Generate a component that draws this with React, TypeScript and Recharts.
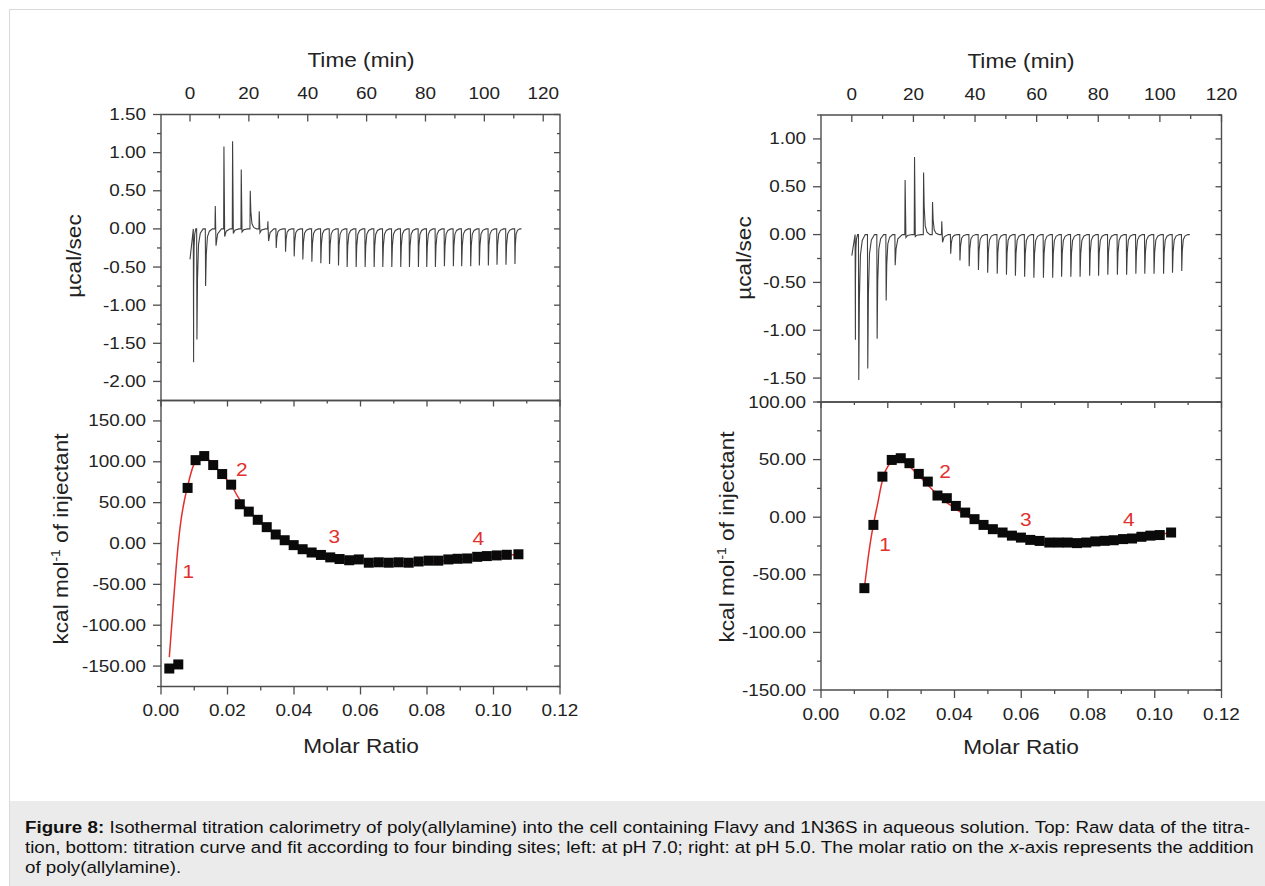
import React from 'react';
import { ComposedChart, Line, Scatter, XAxis, YAxis, ReferenceArea } from 'recharts';

// ---------------- data ----------------
// Raw thermograms (top): injection times (min), peak heights (µcal/sec), secondary dips
const leftInjTimes = [1.13, 2.26, 5.2, 8.49, 11.43, 14.37, 17.31, 20.37, 23.42, 26.36, 29.19, 32.36, 35.3, 38.24, 41.3, 44.35, 47.3, 50.35, 53.29, 56.35, 59.4, 62.46, 65.4, 68.46, 71.5, 74.45, 77.5, 80.33, 83.27, 86.33, 89.38, 92.2, 95.26, 98.2, 101.26, 104.2, 107.25, 110.3];
const leftInjPeaks = [-1.75, -1.45, -0.75, 0.3, 1.08, 1.15, 0.78, 0.5, 0.23, 0.1, -0.25, -0.3, -0.36, -0.4, -0.43, -0.45, -0.46, -0.48, -0.5, -0.5, -0.5, -0.5, -0.5, -0.5, -0.5, -0.5, -0.5, -0.5, -0.5, -0.49, -0.49, -0.49, -0.49, -0.48, -0.48, -0.47, -0.47, -0.46];
const leftInjDips = [0, 0, 0, -0.22, -0.1, -0.06, -0.04, 0, -0.05, -0.16, 0, 0, 0, 0, 0, 0, 0, 0, 0, 0, 0, 0, 0, 0, 0, 0, 0, 0, 0, 0, 0, 0, 0, 0, 0, 0, 0, 0];
const leftThermoStart = -0.4;
const leftThermoEnd = 112.6;

const rightInjTimes = [1.07, 2.16, 5.08, 8.12, 11.05, 13.98, 17.2, 20.26, 23.2, 26.1, 29.1, 32.0, 35.0, 38.0, 41.0, 44.0, 47.1, 50.1, 53.0, 56.0, 59.0, 62.1, 65.1, 68.0, 71.0, 74.0, 77.1, 80.0, 83.0, 86.1, 89.1, 92.1, 95.0, 98.0, 101.1, 104.0, 107.0];
const rightInjPeaks = [-1.1, -1.52, -1.4, -1.09, -0.69, -0.32, 0.57, 0.81, 0.65, 0.34, 0.14, -0.2, -0.27, -0.33, -0.37, -0.4, -0.41, -0.42, -0.43, -0.44, -0.45, -0.45, -0.45, -0.44, -0.44, -0.44, -0.43, -0.43, -0.42, -0.42, -0.42, -0.41, -0.41, -0.41, -0.41, -0.4, -0.38];
const rightInjDips = [0, 0, 0, 0, 0, -0.15, -0.03, -0.02, 0, 0, -0.08, 0, 0, 0, 0, 0, 0, 0, 0, 0, 0, 0, 0, 0, 0, 0, 0, 0, 0, 0, 0, 0, 0, 0, 0, 0, 0];
const rightThermoStart = -0.22;
const rightThermoEnd = 109.7;

// Integrated heats (bottom): molar ratio and kcal/mol of injectant
const leftMolar = [0.0025, 0.0052, 0.008, 0.0104, 0.013, 0.0157, 0.0184, 0.0211, 0.0237, 0.0264, 0.0291, 0.0318, 0.0345, 0.0372, 0.0399, 0.0426, 0.0453, 0.0481, 0.0509, 0.0537, 0.0566, 0.0595, 0.0625, 0.0655, 0.0685, 0.0715, 0.0745, 0.0775, 0.0805, 0.0834, 0.0864, 0.0892, 0.0921, 0.0951, 0.098, 0.101, 0.104, 0.1075];
const leftHeat = [-153, -148, 68, 102, 107, 96, 85, 72, 48, 39, 29, 20, 11, 4, -2, -7, -11, -14, -17, -19, -20.5, -19.5, -23.5, -23, -23.5, -23, -23.5, -22, -21, -21, -19.5, -18.7, -18.3, -16.3, -15.4, -14.6, -13.8, -13.2];
const leftFitX = [0.0025, 0.0035, 0.0045, 0.0052, 0.006, 0.007, 0.008, 0.009, 0.01, 0.011, 0.012, 0.013, 0.014, 0.0155, 0.017, 0.0185, 0.02, 0.0215, 0.023, 0.025, 0.0275, 0.03, 0.0325, 0.035, 0.0375, 0.04, 0.045, 0.05, 0.055, 0.06, 0.065, 0.07, 0.075, 0.08, 0.085, 0.09, 0.095, 0.1, 0.105, 0.108];
const leftFitY = [-139, -85, -32, 0, 28, 52, 70, 86, 98, 104, 106.5, 106.5, 104, 98, 91, 84, 77, 69, 58, 46, 35, 26, 18, 10.5, 4, -1.5, -9, -15, -19, -21.5, -22.8, -23.2, -23, -22.3, -21.2, -19.8, -18, -16, -14.2, -13];

const rightMolar = [0.013, 0.0157, 0.0184, 0.0212, 0.0239, 0.0265, 0.0293, 0.032, 0.0349, 0.0377, 0.0404, 0.0432, 0.046, 0.0487, 0.0515, 0.0544, 0.0572, 0.0599, 0.0627, 0.0655, 0.0684, 0.0712, 0.0739, 0.0767, 0.0795, 0.0822, 0.085, 0.0877, 0.0905, 0.0932, 0.096, 0.0987, 0.1015, 0.1049];
const rightHeat = [-61.6, -6.7, 35.2, 49.7, 51.2, 46.9, 37.6, 30.9, 18.8, 16.5, 9.8, 4.0, -1.7, -6.7, -10.4, -13.3, -16.0, -17.7, -19.7, -20.6, -22.0, -22.0, -22.0, -22.5, -22.0, -21.0, -20.5, -20.0, -19.0, -18.5, -17.0, -16.0, -15.5, -13.3];
const rightFitX = [0.013, 0.014, 0.015, 0.016, 0.017, 0.018, 0.019, 0.02, 0.021, 0.022, 0.023, 0.024, 0.025, 0.0265, 0.028, 0.03, 0.032, 0.034, 0.036, 0.038, 0.04, 0.042, 0.044, 0.046, 0.048, 0.05, 0.053, 0.056, 0.059, 0.062, 0.065, 0.068, 0.071, 0.074, 0.077, 0.08, 0.083, 0.086, 0.089, 0.092, 0.095, 0.098, 0.101, 0.105];
const rightFitY = [-61, -38, -18, -2, 12, 27, 38, 44, 47.5, 49, 49.5, 49, 47.5, 44, 40, 34, 28, 22, 16.5, 12, 8, 4, 0.5, -3, -6, -9, -12.5, -15.5, -17.8, -19.5, -21, -22, -22.6, -23, -23, -22.6, -22, -21, -20, -18.8, -17.5, -16.2, -15, -13.5];

// Red site annotations (data coordinates)
const leftSiteLabels = ['1', '2', '3', '4'];
const leftSiteX = [0.0082, 0.0243, 0.0521, 0.0954];
const leftSiteY = [-34, 90, 8, 6];
const rightSiteLabels = ['1', '2', '3', '4'];
const rightSiteX = [0.0192, 0.0372, 0.0614, 0.0922];
const rightSiteY = [-24, 39.6, -1.7, -1.7];

// Axis ticks
const timeTicks = [0, 10, 20, 30, 40, 50, 60, 70, 80, 90, 100, 110, 120];
const leftPowerTicks = [-2.25, -2, -1.75, -1.5, -1.25, -1, -0.75, -0.5, -0.25, 0, 0.25, 0.5, 0.75, 1, 1.25, 1.5];
const rightPowerTicks = [-1.75, -1.5, -1.25, -1, -0.75, -0.5, -0.25, 0, 0.25, 0.5, 0.75, 1, 1.25];
const leftHeatTicks = [-175, -150, -125, -100, -75, -50, -25, 0, 25, 50, 75, 100, 125, 150, 175];
const rightHeatTicks = [-150, -125, -100, -75, -50, -25, 0, 25, 50, 75, 100];
const molarTicks = [0, 0.01, 0.02, 0.03, 0.04, 0.05, 0.06, 0.07, 0.08, 0.09, 0.1, 0.11, 0.12];

// ---------------- layout / style ----------------
const PAGE_W = 1265;
const PAGE_H = 886;
const FONT = '"Liberation Sans", Arial, Helvetica, sans-serif';
const SX = 1.16;
const AXIS = '#4d4d4d';
const TEXT = '#222';
const RED = '#e2302e';

const LT = { left: 161, right: 560, top: 114.5, bottom: 400.5 };
const LB = { left: 161, right: 560, top: 400.5, bottom: 686.5 };
const RT = { left: 821, right: 1221.5, top: 115, bottom: 402 };
const RB = { left: 821, right: 1221.5, top: 402, bottom: 690 };

type Box = { left: number; right: number; top: number; bottom: number };

// axes get a 1px band (Recharts skips drawing axes of zero size)
const marginTop = (b: Box) => ({ left: b.left - 1, right: PAGE_W - b.right, top: b.top - 1, bottom: PAGE_H - b.bottom });
const marginBottom = (b: Box) => ({ left: b.left - 1, right: PAGE_W - b.right, top: b.top, bottom: PAGE_H - b.bottom - 1 });

// ---------------- builders ----------------
// each injection: sharp deflection to its peak and a quick return to the baseline
function buildThermo(times: number[], peaks: number[], dips: number[], start: number, end: number) {
  const pts: { x: number; y: number }[] = [{ x: 0, y: start }];
  for (let i = 0; i < times.length; i++) {
    const t = times[i];
    const gap = i < times.length - 1 ? times[i + 1] - t : end - t;
    const p = peaks[i];
    const d = dips[i];
    pts.push({ x: t, y: 0 });
    pts.push({ x: t + 0.1, y: p });
    if (d !== 0) {
      pts.push({ x: t + 0.12 * gap, y: d });
      pts.push({ x: t + 0.3 * gap, y: d * 0.3 });
    } else {
      pts.push({ x: t + 0.1 * gap, y: p * 0.45 });
      pts.push({ x: t + 0.22 * gap, y: p * 0.14 });
      pts.push({ x: t + 0.42 * gap, y: p * 0.04 });
    }
    pts.push({ x: t + 0.75 * gap, y: 0 });
  }
  pts.push({ x: end, y: 0 });
  return pts;
}

const zip = (xs: number[], ys: number[]) => xs.map((x, i) => ({ x, y: ys[i] }));

const leftThermo = buildThermo(leftInjTimes, leftInjPeaks, leftInjDips, leftThermoStart, leftThermoEnd);
const rightThermo = buildThermo(rightInjTimes, rightInjPeaks, rightInjDips, rightThermoStart, rightThermoEnd);
const leftPoints = zip(leftMolar, leftHeat);
const rightPoints = zip(rightMolar, rightHeat);
const leftFit = zip(leftFitX, leftFitY);
const rightFit = zip(rightFitX, rightFitY);
const leftSites = leftSiteLabels.map((t, i) => ({ x: leftSiteX[i], y: leftSiteY[i], t }));
const rightSites = rightSiteLabels.map((t, i) => ({ x: rightSiteX[i], y: rightSiteY[i], t }));

// ---------------- tick renderers ----------------
const isHalf = (v: number) => Math.abs(v * 2 - Math.round(v * 2)) < 1e-6;
const isFifty = (v: number) => Math.abs(v / 50 - Math.round(v / 50)) < 1e-6;
const isTwenty = (v: number) => Math.abs(v / 20 - Math.round(v / 20)) < 1e-6;
const isEvenHundredth = (v: number) => Math.round(v * 100) % 2 === 0;

const ScaledText = ({ x, y, anchor, size, fill, children }: any) => (
  <text
    transform={`translate(${x} ${y}) scale(${SX} 1)`}
    x={0}
    y={0}
    textAnchor={anchor}
    dominantBaseline="central"
    fontFamily={FONT}
    fontSize={size}
    fill={fill}
  >
    {children}
  </text>
);

const makeYTick = (box: Box, major: (v: number) => boolean) => (props: any) => {
  const { y, payload } = props;
  const v = Number(payload.value);
  const maj = major(v);
  const xl = box.left;
  const xr = box.right;
  return (
    <g>
      <line x1={xl - (maj ? 8 : 4)} x2={xl} y1={y} y2={y} stroke={AXIS} strokeWidth={1.3} />
      <line x1={xr - (maj ? 6 : 3)} x2={xr} y1={y} y2={y} stroke={AXIS} strokeWidth={1.3} />
      {maj ? (
        <ScaledText x={xl - 15} y={y} anchor="end" size={16.3} fill={TEXT}>
          {v.toFixed(2)}
        </ScaledText>
      ) : null}
    </g>
  );
};

const makeTopTick = (box: Box) => (props: any) => {
  const { x, payload } = props;
  const v = Number(payload.value);
  const maj = isTwenty(v);
  const y = box.top;
  return (
    <g>
      <line x1={x} x2={x} y1={y} y2={y + (maj ? 7 : 4)} stroke={AXIS} strokeWidth={1.3} />
      {maj ? (
        <ScaledText x={x} y={y - 21} anchor="middle" size={16.3} fill={TEXT}>
          {String(v)}
        </ScaledText>
      ) : null}
    </g>
  );
};

const makeBottomTick = (box: Box) => (props: any) => {
  const { x, payload } = props;
  const v = Number(payload.value);
  const maj = isEvenHundredth(v);
  const y = box.bottom;
  const yt = box.top;
  return (
    <g>
      <line x1={x} x2={x} y1={y} y2={y + (maj ? 8 : 4)} stroke={AXIS} strokeWidth={1.3} />
      <line x1={x} x2={x} y1={yt} y2={yt + (maj ? 6 : 3)} stroke={AXIS} strokeWidth={1.3} />
      {maj ? (
        <ScaledText x={x} y={y + 24} anchor="middle" size={16.3} fill={TEXT}>
          {v.toFixed(2)}
        </ScaledText>
      ) : null}
    </g>
  );
};

const squareShape = (props: any) => {
  const { cx, cy } = props;
  if (cx == null || cy == null) return <g />;
  return <rect x={cx - 5} y={cy - 5} width={10} height={10} fill="#0a0a0a" />;
};

const siteShape = (props: any) => {
  const { cx, cy, payload } = props;
  if (cx == null || cy == null) return <g />;
  return (
    <ScaledText x={cx} y={cy} anchor="middle" size={18} fill={RED}>
      {payload.t}
    </ScaledText>
  );
};

// ---------------- panels ----------------
function ThermoPanel({ box, xDomain, yDomain, yTicks, data }: any) {
  return (
    <div style={{ position: 'absolute', left: 0, top: 0 }}>
      <ComposedChart width={PAGE_W} height={PAGE_H} margin={marginTop(box)}>
        <XAxis
          xAxisId="t"
          type="number"
          dataKey="x"
          orientation="top"
          domain={xDomain}
          ticks={timeTicks}
          interval={0}
          height={1}
          tickSize={0}
          tickMargin={0}
          axisLine={false}
          tickLine={false}
          allowDataOverflow
          tick={makeTopTick(box)}
        />
        <YAxis
          yAxisId="p"
          type="number"
          dataKey="y"
          domain={yDomain}
          ticks={yTicks}
          interval={0}
          width={1}
          tickSize={0}
          tickMargin={0}
          axisLine={false}
          tickLine={false}
          allowDataOverflow
          tick={makeYTick(box, isHalf)}
        />
        <ReferenceArea
          xAxisId="t"
          yAxisId="p"
          x1={xDomain[0]}
          x2={xDomain[1]}
          y1={yDomain[0]}
          y2={yDomain[1]}
          fill="none"
          stroke={AXIS}
          strokeWidth={1.4}
          ifOverflow="visible"
        />
        <Line
          xAxisId="t"
          yAxisId="p"
          data={data}
          dataKey="y"
          type="linear"
          stroke="#404040"
          strokeWidth={1.1}
          dot={false}
          activeDot={false}
          isAnimationActive={false}
        />
      </ComposedChart>
    </div>
  );
}

function HeatPanel({ box, yDomain, yTicks, points, fit, sites }: any) {
  const xDomain = [0, 0.12];
  return (
    <div style={{ position: 'absolute', left: 0, top: 0 }}>
      <ComposedChart width={PAGE_W} height={PAGE_H} margin={marginBottom(box)}>
        <XAxis
          xAxisId="m"
          type="number"
          dataKey="x"
          orientation="bottom"
          domain={xDomain}
          ticks={molarTicks}
          interval={0}
          height={1}
          tickSize={0}
          tickMargin={0}
          axisLine={false}
          tickLine={false}
          allowDataOverflow
          tick={makeBottomTick(box)}
        />
        <YAxis
          yAxisId="h"
          type="number"
          dataKey="y"
          domain={yDomain}
          ticks={yTicks}
          interval={0}
          width={1}
          tickSize={0}
          tickMargin={0}
          axisLine={false}
          tickLine={false}
          allowDataOverflow
          tick={makeYTick(box, isFifty)}
        />
        <ReferenceArea
          xAxisId="m"
          yAxisId="h"
          x1={xDomain[0]}
          x2={xDomain[1]}
          y1={yDomain[0]}
          y2={yDomain[1]}
          fill="none"
          stroke={AXIS}
          strokeWidth={1.4}
          ifOverflow="visible"
        />
        <Scatter
          xAxisId="m"
          yAxisId="h"
          data={points}
          shape={squareShape}
          isAnimationActive={false}
        />
        <Line
          xAxisId="m"
          yAxisId="h"
          data={fit}
          dataKey="y"
          type="monotone"
          stroke={RED}
          strokeWidth={1.5}
          dot={false}
          activeDot={false}
          isAnimationActive={false}
        />
        <Scatter
          xAxisId="m"
          yAxisId="h"
          data={sites}
          shape={siteShape}
          isAnimationActive={false}
        />
      </ComposedChart>
    </div>
  );
}

// ---------------- titles ----------------
const titleStyle: React.CSSProperties = {
  position: 'absolute',
  whiteSpace: 'nowrap',
  fontFamily: FONT,
  fontSize: 19.5,
  lineHeight: 1,
  color: TEXT,
};

const HTitle = ({ cx, cy, children }: any) => (
  <div style={{ ...titleStyle, left: cx, top: cy, transform: `translate(-50%, -50%) scaleX(${SX})` }}>{children}</div>
);

const VTitle = ({ cx, cy, children }: any) => (
  <div style={{ ...titleStyle, left: cx, top: cy, transform: `translate(-50%, -50%) rotate(-90deg) scaleX(${SX})` }}>
    {children}
  </div>
);

const KcalTitle = () => (
  <>
    kcal mol
    <span style={{ fontSize: 12, position: 'relative', top: -8 }}>-1</span> of injectant
  </>
);

const captionLine: React.CSSProperties = {
  textAlign: 'justify',
  textAlignLast: 'justify',
  whiteSpace: 'nowrap',
};

export default function App() {
  return (
    <div
      style={{
        position: 'absolute',
        left: 0,
        top: 0,
        width: PAGE_W,
        height: PAGE_H,
        background: '#fff',
        overflow: 'hidden',
      }}
    >
      <div
        style={{
          position: 'absolute',
          left: 9,
          top: 9,
          width: PAGE_W,
          height: PAGE_H,
          borderLeft: '1px solid #d9d9d9',
          borderTop: '1px solid #d9d9d9',
        }}
      />
      <ThermoPanel box={LT} xDomain={[-9.85, 125.7]} yDomain={[-2.25, 1.5]} yTicks={leftPowerTicks} data={leftThermo} />
      <HeatPanel box={LB} yDomain={[-175, 175]} yTicks={leftHeatTicks} points={leftPoints} fit={leftFit} sites={leftSites} />
      <ThermoPanel box={RT} xDomain={[-10, 120]} yDomain={[-1.75, 1.25]} yTicks={rightPowerTicks} data={rightThermo} />
      <HeatPanel box={RB} yDomain={[-150, 100]} yTicks={rightHeatTicks} points={rightPoints} fit={rightFit} sites={rightSites} />

      <HTitle cx={360.5} cy={61}>Time (min)</HTitle>
      <HTitle cx={1021} cy={62}>Time (min)</HTitle>
      <HTitle cx={360.5} cy={747}>Molar Ratio</HTitle>
      <HTitle cx={1021} cy={748}>Molar Ratio</HTitle>
      <VTitle cx={75} cy={256}>µcal/sec</VTitle>
      <VTitle cx={745} cy={258}>µcal/sec</VTitle>
      <VTitle cx={62} cy={539}><KcalTitle /></VTitle>
      <VTitle cx={728} cy={537}><KcalTitle /></VTitle>

      <div style={{ position: 'absolute', left: 10, top: 801, width: PAGE_W, height: 100, background: '#ebebeb' }} />
      <div
        style={{
          position: 'absolute',
          left: 25,
          top: 817,
          width: 1225 / 1.15,
          transform: 'scaleX(1.15)',
          transformOrigin: 'left top',
          fontFamily: FONT,
          fontSize: 16.3,
          lineHeight: '20px',
          color: '#111',
        }}
      >
        <div style={captionLine}>
          <b>Figure 8:</b> Isothermal titration calorimetry of poly(allylamine) into the cell containing Flavy and 1N36S in aqueous solution. Top: Raw data of the titra-
        </div>
        <div style={captionLine}>
          tion, bottom: titration curve and fit according to four binding sites; left: at pH 7.0; right: at pH 5.0. The molar ratio on the <i>x</i>-axis represents the addition
        </div>
        <div>of poly(allylamine).</div>
      </div>
    </div>
  );
}
